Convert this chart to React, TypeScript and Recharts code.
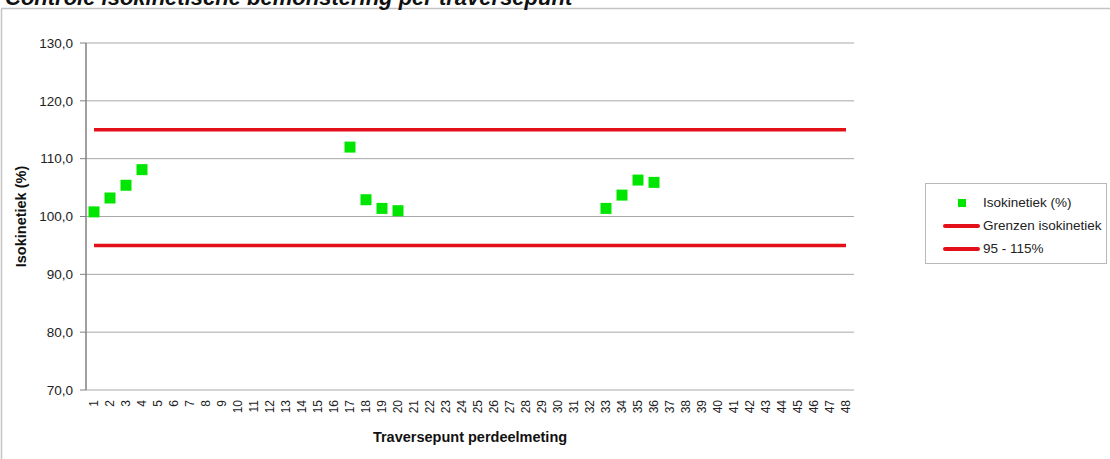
import React from 'react';
import { ComposedChart, Line, XAxis, YAxis, CartesianGrid, ReferenceLine } from 'recharts';

const PUNTEN = [
  1, 2, 3, 4, 5, 6, 7, 8, 9, 10, 11, 12, 13, 14, 15, 16,
  17, 18, 19, 20, 21, 22, 23, 24, 25, 26, 27, 28, 29, 30, 31, 32,
  33, 34, 35, 36, 37, 38, 39, 40, 41, 42, 43, 44, 45, 46, 47, 48,
];

const ISOKINETIEK: (number | null)[] = [
  100.8, 103.2, 105.4, 108.1, null, null, null, null, null, null, null, null, null, null, null, null,
  112.0, 102.9, 101.4, 101.0, null, null, null, null, null, null, null, null, null, null, null, null,
  101.4, 103.7, 106.3, 105.9, null, null, null, null, null, null, null, null, null, null, null, null,
];

const ONDERGRENS = 95;
const BOVENGRENS = 115;
const Y_TICKS = [70, 80, 90, 100, 110, 120, 130];
const GRENS_TICKS = [...PUNTEN.map((p) => p - 0.5), PUNTEN[PUNTEN.length - 1] + 0.5];

const GREEN = '#00e600';
const RED = '#e3101a';
const AXIS = '#808080';
const FONT = '"Liberation Sans", Arial, sans-serif';

const rows = PUNTEN.map((p, i) => ({
  punt: String(p),
  iso: ISOKINETIEK[i],
  onder: ONDERGRENS,
  boven: BOVENGRENS,
}));

const LEGEND = [
  { name: 'Isokinetiek (%)', kind: 'square' },
  { name: 'Grenzen isokinetiek', kind: 'line' },
  { name: '95 - 115%', kind: 'line' },
];

function SquareDot(props: any) {
  const { cx, cy, value, index } = props;
  if (value == null || cy == null || isNaN(cy)) return <g key={`d-${index}`} />;
  return <rect key={`d-${index}`} x={cx - 5.5} y={cy - 5.5} width={11} height={11} fill={GREEN} />;
}

function XTick({ x, y, payload }: any) {
  return (
    <text
      x={x}
      y={y}
      transform={`rotate(-90, ${x}, ${y})`}
      textAnchor="end"
      dominantBaseline="central"
      fontSize={12}
      fontFamily={FONT}
      fill="#222"
    >
      {payload.value}
    </text>
  );
}

function YTitle({ viewBox }: any) {
  const cx = viewBox.x + 21;
  const cy = viewBox.y + viewBox.height / 2;
  return (
    <text
      x={cx}
      y={cy}
      transform={`rotate(-90, ${cx}, ${cy})`}
      textAnchor="middle"
      dominantBaseline="central"
      fontSize={14.5}
      fontWeight="bold"
      fontFamily={FONT}
      fill="#111"
    >
      Isokinetiek (%)
    </text>
  );
}

export default function App() {
  return (
    <div style={{ position: 'relative', width: 1110, height: 459, background: '#fff', fontFamily: FONT }}>
      <style>{'body{margin:0}'}</style>
      <svg width={1110} height={459} style={{ position: 'absolute', left: 0, top: 0 }}>
        <line x1={1.5} y1={8.5} x2={1110} y2={8.5} stroke="#c4c4c4" strokeWidth={1.5} />
        <line x1={1.5} y1={8.5} x2={1.5} y2={459} stroke="#c4c4c4" strokeWidth={1.5} />
        <text x={5} y={4.5} fontSize={22} fontWeight="bold" fontStyle="italic" fontFamily={FONT} fill="#111">
          Controle isokinetische bemonstering per traversepunt
        </text>
      </svg>
      <div style={{ position: 'absolute', left: 0, top: 0 }}>
        <ComposedChart width={1110} height={459} data={rows} margin={{ top: 43, right: 256, bottom: 0, left: 0 }}>
          <CartesianGrid vertical={false} stroke="#a8a8a8" strokeWidth={1} />
          <XAxis
            xAxisId="grens"
            type="number"
            domain={[GRENS_TICKS[0], GRENS_TICKS[GRENS_TICKS.length - 1]]}
            allowDataOverflow
            ticks={GRENS_TICKS}
            interval={0}
            tick={false}
            tickSize={5}
            tickLine={{ stroke: AXIS }}
            axisLine={{ stroke: AXIS, strokeWidth: 1.5 }}
            height={0}
          />
          <XAxis
            dataKey="punt"
            type="category"
            scale="band"
            interval={0}
            tickLine={false}
            axisLine={false}
            tickSize={5}
            tickMargin={5}
            tick={<XTick />}
            height={69}
            label={{
              value: 'Traversepunt perdeelmeting',
              position: 'insideBottom',
              offset: 17,
              fontSize: 14.5,
              fontWeight: 'bold',
              fontFamily: FONT,
              fill: '#111',
            }}
          />
          <YAxis
            domain={[70, 130]}
            ticks={Y_TICKS}
            interval={0}
            width={86}
            tickSize={6}
            tickMargin={7}
            tickFormatter={(v: number) => v.toFixed(1).replace('.', ',')}
            tick={{ fontSize: 13.5, fill: '#222', fontFamily: FONT }}
            tickLine={{ stroke: AXIS }}
            axisLine={{ stroke: AXIS, strokeWidth: 1.5 }}
            label={{ content: <YTitle /> }}
          />
          <ReferenceLine xAxisId="grens" x={GRENS_TICKS[GRENS_TICKS.length - 1]} stroke="#9a9a9a" strokeWidth={2} />
          <Line
            dataKey="boven"
            name="Grenzen isokinetiek"
            stroke={RED}
            strokeWidth={3.5}
            dot={false}
            activeDot={false}
            isAnimationActive={false}
          />
          <Line
            dataKey="onder"
            name="95 - 115%"
            stroke={RED}
            strokeWidth={3.5}
            dot={false}
            activeDot={false}
            isAnimationActive={false}
          />
          <Line
            dataKey="iso"
            name="Isokinetiek (%)"
            stroke="none"
            dot={SquareDot}
            activeDot={false}
            isAnimationActive={false}
          />
        </ComposedChart>
      </div>
      <div
        style={{
          position: 'absolute',
          left: 925,
          top: 183,
          width: 182,
          height: 81,
          border: '1px solid #b8b8b8',
          boxSizing: 'border-box',
          paddingTop: 7,
        }}
      >
        {LEGEND.map((item) => (
          <div key={item.name} style={{ display: 'flex', alignItems: 'center', height: 23, fontSize: 13.5, color: '#222' }}>
            <div style={{ width: 57, position: 'relative', height: 23 }}>
              {item.kind === 'square' ? (
                <div style={{ position: 'absolute', left: 32, top: 8, width: 8, height: 8, background: GREEN }} />
              ) : (
                <div style={{ position: 'absolute', left: 17, top: 10, width: 37, height: 3.5, borderRadius: 2, background: RED }} />
              )}
            </div>
            <span>{item.name}</span>
          </div>
        ))}
      </div>
    </div>
  );
}
